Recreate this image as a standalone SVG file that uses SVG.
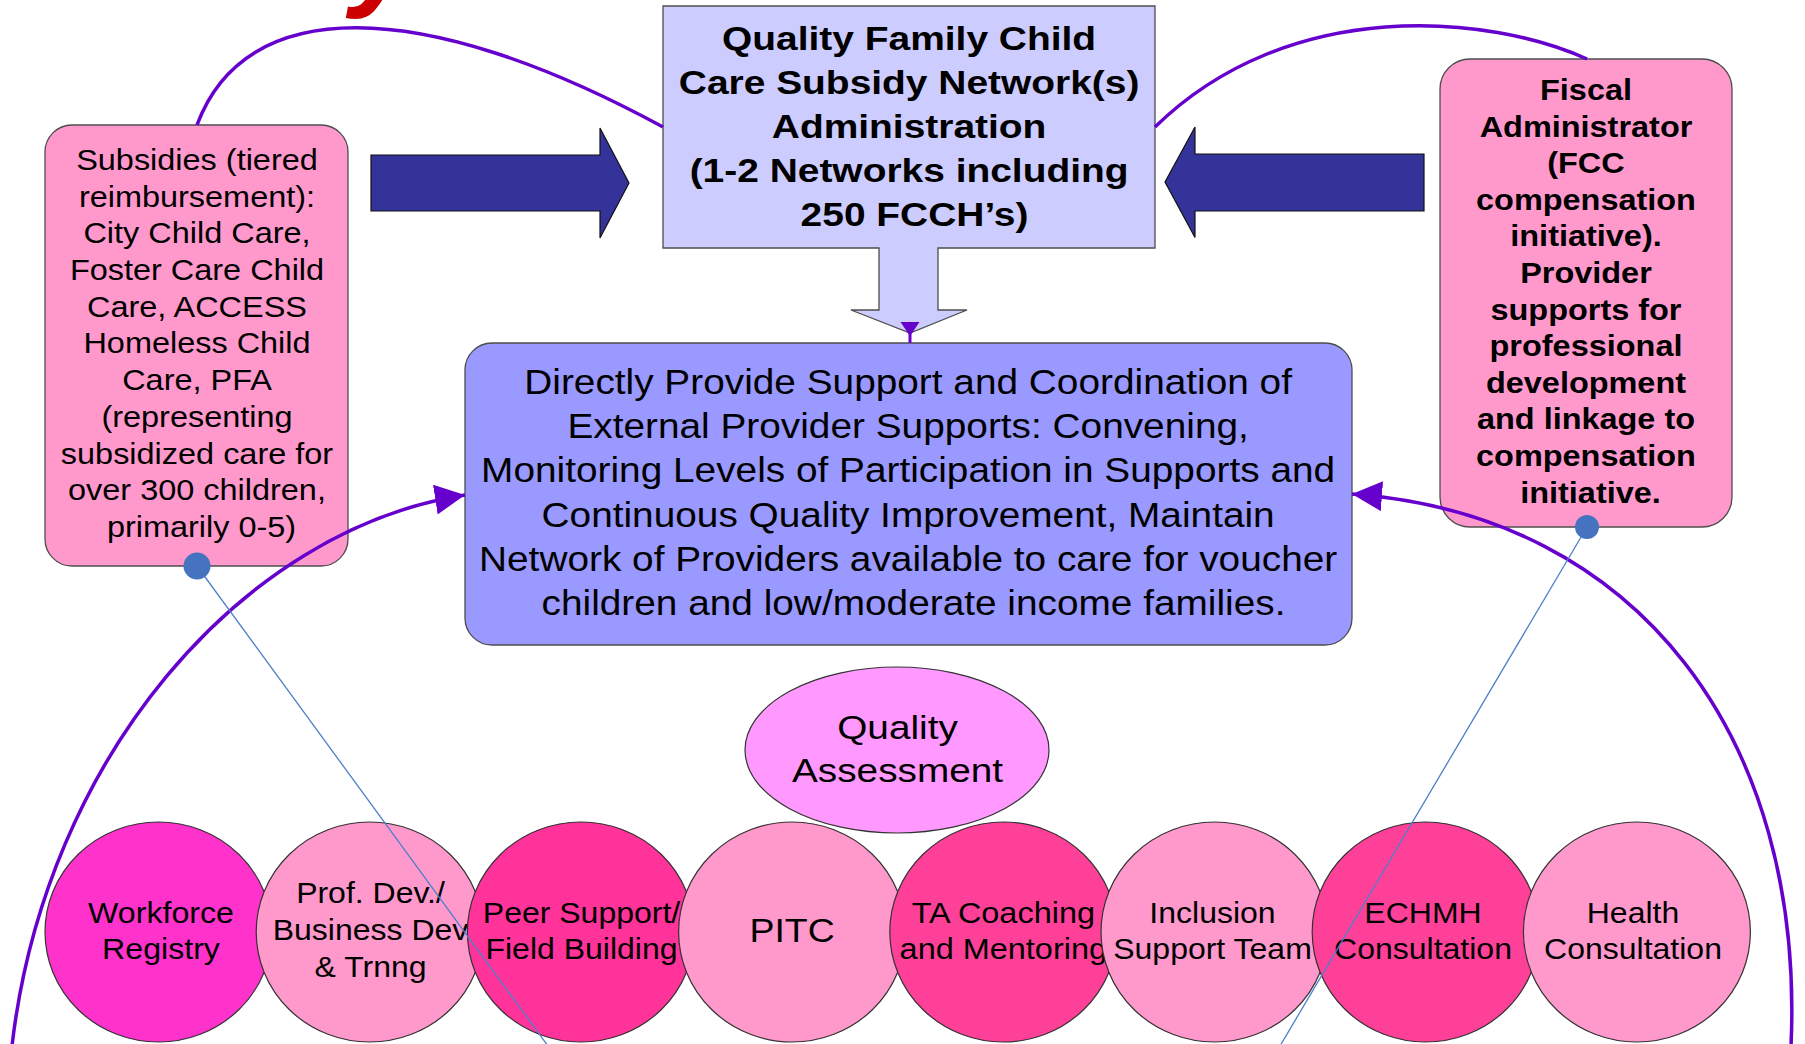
<svg xmlns="http://www.w3.org/2000/svg" width="1805" height="1044" viewBox="0 0 1805 1044">
<style>
  text { font-family: "Liberation Sans", Arial, sans-serif; fill: #000; text-anchor: middle; }
  .b { font-weight: bold; }
  .box { stroke: #4d4d4d; stroke-width: 1.3; }
  .pink { fill: #FF99CC; }
  .blk { fill: #333399; stroke: #111; stroke-width: 1.2; }
  .circ { stroke: #333; stroke-width: 1.2; }
  .conn { fill: none; stroke: #6600CC; stroke-width: 3.5; }
  .lnk { fill: none; stroke: #4F7FC8; stroke-width: 1.3; }
  .dot { fill: #4673C0; }
  .t30 { font-size: 29.5px; }
  .t34 { font-size: 34px; }
</style>
<defs>
  <marker id="ah" markerUnits="userSpaceOnUse" markerWidth="32" markerHeight="30" refX="30" refY="15" orient="auto" viewBox="0 0 32 30">
    <path d="M0,0 L30,15 L0,30 Z" fill="#6600CC"/>
  </marker>
</defs>

<rect width="1805" height="1044" fill="#fff"/>

<!-- tail of the heading letter above the frame -->
<text x="384" y="-6" style="font-size:120px;font-style:italic;font-weight:bold;fill:#CC0000">y</text>

<!-- network administration box with its down arrow -->
<g id="admin">
  <path class="box" fill="#CCCCFF" d="M663,6 H1155 V248 H938 V310 H967 L910,333 L851,310 H879 V248 H663 Z"/>
  <g transform="translate(914.5,0) scale(1.145,1)">
    <text class="b t34">
      <tspan x="0" y="50">Quality Family Child</tspan>
      <tspan x="0" y="94">Care Subsidy Network(s)</tspan>
      <tspan x="0" y="138">Administration</tspan>
      <tspan x="0" y="182">(1-2 Networks including</tspan>
      <tspan x="0" y="226">250 FCCH’s)</tspan>
    </text>
  </g>
</g>

<!-- subsidies box -->
<g id="subsidies">
  <rect class="box pink" x="45" y="125" width="303" height="441" rx="27" ry="27"/>
  <g transform="translate(201.5,0) scale(1.1,1)">
    <text class="t30">
      <tspan x="0" y="170">Subsidies (tiered</tspan>
      <tspan x="0" y="206.7">reimbursement):</tspan>
      <tspan x="0" y="243.4">City Child Care,</tspan>
      <tspan x="0" y="280.1">Foster Care Child</tspan>
      <tspan x="0" y="316.8">Care, ACCESS</tspan>
      <tspan x="0" y="353.5">Homeless Child</tspan>
      <tspan x="0" y="390.2">Care, PFA</tspan>
      <tspan x="0" y="426.9">(representing</tspan>
      <tspan x="0" y="463.6">subsidized care for</tspan>
      <tspan x="0" y="500.3">over 300 children,</tspan>
      <tspan x="0" y="537">primarily 0-5)</tspan>
    </text>
  </g>
</g>

<!-- fiscal administrator box -->
<g id="fiscal">
  <rect class="box pink" x="1440" y="59" width="292" height="468" rx="30" ry="30"/>
  <g transform="translate(1590.5,0) scale(1.1,1)">
    <text class="b t30">
      <tspan x="0" y="100">Fiscal</tspan>
      <tspan x="0" y="136.6">Administrator</tspan>
      <tspan x="0" y="173.2">(FCC</tspan>
      <tspan x="0" y="209.8">compensation</tspan>
      <tspan x="0" y="246.4">initiative).</tspan>
      <tspan x="0" y="283">Provider</tspan>
      <tspan x="0" y="319.6">supports for</tspan>
      <tspan x="0" y="356.2">professional</tspan>
      <tspan x="0" y="392.8">development</tspan>
      <tspan x="0" y="429.4">and linkage to</tspan>
      <tspan x="0" y="466">compensation</tspan>
      <tspan x="0" y="502.6">initiative.</tspan>
    </text>
  </g>
</g>

<!-- block arrows into the administration box -->
<g id="arrow-left">
  <polygon class="blk" points="371,155 600,155 600,128 629,183 600,238 600,211 371,211"/>
</g>
<g id="arrow-right">
  <polygon class="blk" points="1424,154 1195,154 1195,127 1165,182 1195,237.5 1195,211 1424,211"/>
</g>

<!-- central support and coordination box -->
<g id="support">
  <rect class="box" fill="#9999FF" x="465" y="343" width="887" height="302" rx="27" ry="27"/>
  <g transform="translate(913.5,0) scale(1.125,1)">
    <text style="font-size:34.5px">
      <tspan x="0" y="394">Directly Provide Support and Coordination of</tspan>
      <tspan x="0" y="438.2">External Provider Supports: Convening,</tspan>
      <tspan x="0" y="482.4">Monitoring Levels of Participation in Supports and</tspan>
      <tspan x="0" y="526.6">Continuous Quality Improvement, Maintain</tspan>
      <tspan x="0" y="570.8">Network of Providers available to care for voucher</tspan>
      <tspan x="0" y="615">children and low/moderate income families.</tspan>
    </text>
  </g>
</g>

<!-- row of provider support services -->
<g id="workforce">
  <ellipse class="circ" fill="#FF33CC" cx="158.5" cy="932" rx="113.5" ry="110"/>
  <g transform="translate(161,0) scale(1.09,1)"><text class="t30"><tspan x="0" y="923">Workforce</tspan><tspan x="0" y="959.5">Registry</tspan></text></g>
</g>
<g id="profdev">
  <ellipse class="circ pink" cx="369.7" cy="932" rx="113.5" ry="110"/>
  <g transform="translate(370.5,0) scale(1.085,1)"><text class="t30"><tspan x="0" y="903">Prof. Dev./</tspan><tspan x="0" y="940">Business Dev</tspan><tspan x="0" y="977">&amp; Trnng</tspan></text></g>
</g>
<g id="peer">
  <ellipse class="circ" fill="#FF3399" cx="580.9" cy="932" rx="113.5" ry="110"/>
  <g transform="translate(581.5,0) scale(1.085,1)"><text class="t30"><tspan x="0" y="923">Peer Support/</tspan><tspan x="0" y="959.5">Field Building</tspan></text></g>
</g>
<g id="pitc">
  <ellipse class="circ pink" cx="792.1" cy="932" rx="113.5" ry="110"/>
  <g transform="translate(792.1,0) scale(1.1,1)"><text style="font-size:34px"><tspan x="0" y="942">PITC</tspan></text></g>
</g>
<g id="ta">
  <ellipse class="circ" fill="#FF4099" cx="1003.3" cy="932" rx="113.5" ry="110"/>
  <g transform="translate(1003.3,0) scale(1.1,1)"><text class="t30"><tspan x="0" y="923">TA Coaching</tspan><tspan x="0" y="959.5">and Mentoring</tspan></text></g>
</g>
<g id="inclusion">
  <ellipse class="circ pink" cx="1214.5" cy="932" rx="113.5" ry="110"/>
  <g transform="translate(1212.5,0) scale(1.085,1)"><text class="t30"><tspan x="0" y="923">Inclusion</tspan><tspan x="0" y="959.5">Support Team</tspan></text></g>
</g>
<g id="echmh">
  <ellipse class="circ" fill="#FF4099" cx="1425.7" cy="932" rx="113.5" ry="110"/>
  <g transform="translate(1423,0) scale(1.085,1)"><text class="t30"><tspan x="0" y="923">ECHMH</tspan><tspan x="0" y="959.5">Consultation</tspan></text></g>
</g>
<g id="health">
  <ellipse class="circ pink" cx="1636.9" cy="932" rx="113.5" ry="110"/>
  <g transform="translate(1633,0) scale(1.085,1)"><text class="t30"><tspan x="0" y="923">Health</tspan><tspan x="0" y="959.5">Consultation</tspan></text></g>
</g>

<!-- quality assessment -->
<g id="assessment">
  <ellipse class="circ" fill="#FF99FF" cx="897" cy="750" rx="152" ry="83"/>
  <g transform="translate(897.5,0) scale(1.14,1)"><text class="t34"><tspan x="0" y="739">Quality</tspan><tspan x="0" y="782.5">Assessment</tspan></text></g>
</g>

<!-- connectors -->
<g id="connectors">
  <path class="conn" d="M197,125 C245,-5 420,-5 663,127"/>
  <path class="conn" d="M1587,59 C1490,15 1290,-5 1155,127"/>
  <line x1="910" y1="333" x2="910" y2="343" stroke="#6600CC" stroke-width="3"/>
  <polygon points="900.5,322 919.5,322 910,336" fill="#6600CC"/>
  <path class="conn" d="M12,1046 C45,760 240,530 465,495" marker-end="url(#ah)"/>
  <path class="conn" d="M1791,1046 C1805,740 1640,515 1352,494" marker-end="url(#ah)"/>
  <line class="lnk" x1="197" y1="566" x2="548" y2="1046"/>
  <circle class="dot" cx="197" cy="566" r="13.5"/>
  <line class="lnk" x1="1587" y1="527" x2="1280" y2="1046"/>
  <circle class="dot" cx="1587" cy="527" r="12"/>
</g>
</svg>
